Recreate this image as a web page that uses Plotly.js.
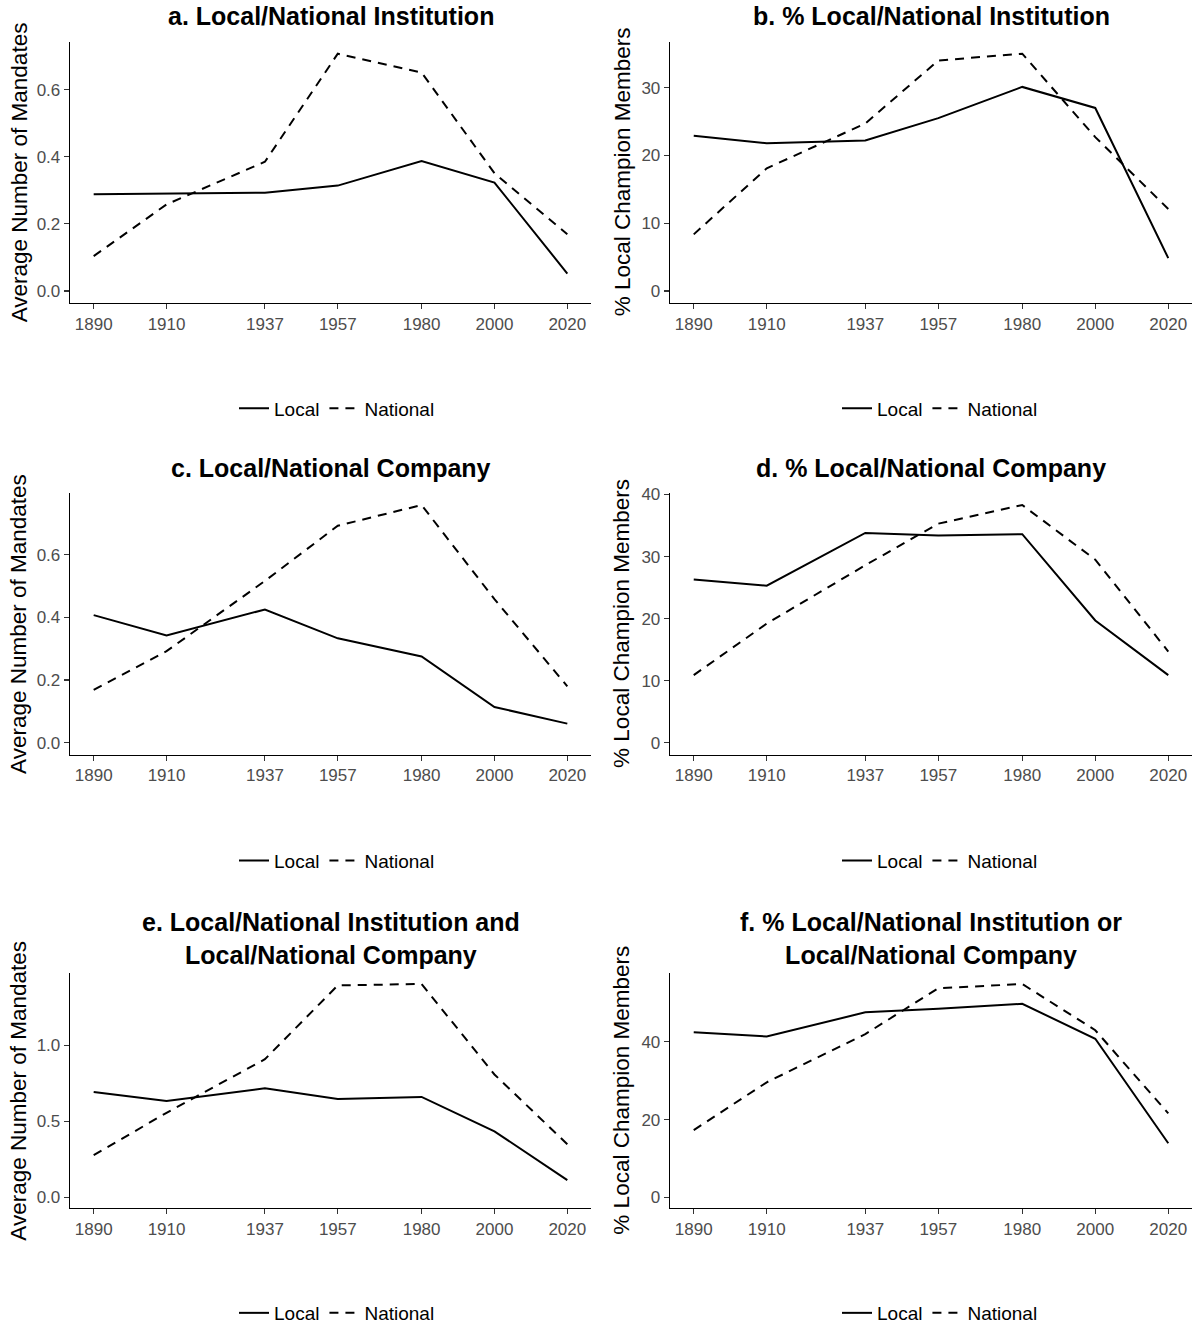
<!DOCTYPE html>
<html>
<head>
<meta charset="utf-8">
<script src="https://cdn.plot.ly/plotly-3.0.1.min.js"></script>
<style>
  html, body { margin: 0; padding: 0; background: #ffffff; }
  #chart { width: 1197px; height: 1332px; }
</style>
</head>
<body>
<div id="chart"></div>
<script>
// Survey waves
const years = [1890, 1910, 1937, 1957, 1980, 2000, 2020];
const yearTicks = [1890, 1910, 1937, 1957, 1980, 2000, 2020];

// a. Average number of mandates: institution
const instMandLocal    = [0.288, 0.291, 0.293, 0.314, 0.387, 0.323, 0.052];
const instMandNational = [0.104, 0.258, 0.385, 0.707, 0.651, 0.351, 0.169];

// b. % champion members: institution
const instPctLocal    = [22.9, 21.8, 22.2, 25.5, 30.1, 27.0, 4.85];
const instPctNational = [8.35, 18.1, 24.7, 34.0, 35.0, 22.7, 12.1];

// c. Average number of mandates: company
const compMandLocal    = [0.407, 0.342, 0.425, 0.333, 0.275, 0.114, 0.061];
const compMandNational = [0.169, 0.292, 0.516, 0.692, 0.758, 0.458, 0.180];

// d. % champion members: company
const compPctLocal    = [26.3, 25.3, 33.8, 33.4, 33.6, 19.7, 10.9];
const compPctNational = [10.9, 19.2, 28.6, 35.3, 38.3, 29.5, 14.7];

// e. Average number of mandates: institution and company
const bothMandLocal    = [0.693, 0.634, 0.717, 0.647, 0.660, 0.434, 0.113];
const bothMandNational = [0.277, 0.556, 0.908, 1.394, 1.403, 0.808, 0.349];

// f. % champion members: institution or company
const bothPctLocal    = [42.5, 41.4, 47.6, 48.5, 49.8, 40.8, 13.9];
const bothPctNational = [17.3, 29.6, 42.0, 53.8, 54.9, 43.0, 21.6];

const panelTitles = [
  "a. Local/National Institution",
  "b. % Local/National Institution",
  "c. Local/National Company",
  "d. % Local/National Company",
  "e. Local/National Institution and<br>Local/National Company",
  "f. % Local/National Institution or<br>Local/National Company"
];
const yTitles = [
  "Average Number of Mandates",
  "% Local Champion Members",
  "Average Number of Mandates",
  "% Local Champion Members",
  "Average Number of Mandates",
  "% Local Champion Members"
];
const seriesNames = ["Local", "National"];

const panels = [
  { local: instMandLocal, national: instMandNational, dtick: 0.2, fmt: ".1f" },
  { local: instPctLocal,  national: instPctNational,  dtick: 10,  fmt: "d" },
  { local: compMandLocal, national: compMandNational, dtick: 0.2, fmt: ".1f" },
  { local: compPctLocal,  national: compPctNational,  dtick: 10,  fmt: "d" },
  { local: bothMandLocal, national: bothMandNational, dtick: 0.5, fmt: ".1f" },
  { local: bothPctLocal,  national: bothPctNational,  dtick: 20,  fmt: "d" }
];

// Page geometry (px) for the 3x2 grid of panels
const W = 1197, H = 1332;
const colX = [[70, 591], [670, 1192]];
const rowY = [[42, 304], [495, 757.5], [977, 1212.5]];
const titleY = [16, 470, 942];
const legendY = [410, 864, 1318];
const legendX = [337, 940];
const yTitleX = [19, 622];

const FONT = "Liberation Sans, Arial, Helvetica, sans-serif";
const px = v => v / W;
const py = v => 1 - v / H;

const traces = [];
const layout = {
  width: W, height: H,
  margin: { l: 0, r: 0, t: 0, b: 0 },
  paper_bgcolor: "#ffffff",
  plot_bgcolor: "#ffffff",
  font: { family: FONT, color: "#000000" },
  annotations: [],
  showlegend: true
};

panels.forEach((p, i) => {
  const col = i % 2, row = Math.floor(i / 2);
  const n = i + 1;
  const xa = n === 1 ? "x" : "x" + n;
  const ya = n === 1 ? "y" : "y" + n;
  const xKey = n === 1 ? "xaxis" : "xaxis" + n;
  const yKey = n === 1 ? "yaxis" : "yaxis" + n;
  const legKey = n === 1 ? "legend" : "legend" + n;

  const yMax = Math.max(...p.local, ...p.national);
  const pad = 0.05 * yMax;

  traces.push({
    x: years, y: p.local, type: "scatter", mode: "lines",
    name: seriesNames[0], xaxis: xa, yaxis: ya, legend: legKey,
    line: { color: "#000000", width: 2, dash: "solid" },
    hoverinfo: "x+y"
  });
  traces.push({
    x: years, y: p.national, type: "scatter", mode: "lines",
    name: seriesNames[1], xaxis: xa, yaxis: ya, legend: legKey,
    line: { color: "#000000", width: 2, dash: "9px,7px" },
    hoverinfo: "x+y"
  });

  layout[xKey] = {
    domain: [px(colX[col][0]), px(colX[col][1])],
    anchor: ya,
    range: [1883.5, 2026.5],
    tickmode: "array",
    tickvals: yearTicks,
    ticktext: yearTicks.map(String),
    showgrid: false, zeroline: false,
    showline: true, linecolor: "#000000", linewidth: 1.3,
    ticks: "outside", ticklen: 5, tickwidth: 1.1, tickcolor: "#333333",
    tickfont: { family: FONT, size: 17, color: "#4D4D4D" },
    fixedrange: true
  };
  layout[yKey] = {
    domain: [py(rowY[row][1]), py(rowY[row][0])],
    anchor: xa,
    range: [-pad, yMax + pad],
    tick0: 0, dtick: p.dtick, tickformat: p.fmt,
    showgrid: false, zeroline: false,
    showline: true, linecolor: "#000000", linewidth: 1.3,
    ticks: "outside", ticklen: 5, tickwidth: 1.1, tickcolor: "#333333",
    tickfont: { family: FONT, size: 17, color: "#4D4D4D" },
    fixedrange: true
  };
  layout[legKey] = {
    orientation: "h",
    x: px(legendX[col]), y: py(legendY[row]),
    xanchor: "center", yanchor: "middle",
    bgcolor: "rgba(0,0,0,0)",
    font: { family: FONT, size: 19, color: "#000000" },
    itemwidth: 30,
    tracegroupgap: 0
  };

  // panel title
  layout.annotations.push({
    text: "<b>" + panelTitles[i] + "</b>",
    xref: "paper", yref: "paper",
    x: px((colX[col][0] + colX[col][1]) / 2),
    y: py(titleY[row]),
    xanchor: "center", yanchor: "middle",
    showarrow: false,
    font: { family: FONT, size: 25, color: "#000000" }
  });
  // y-axis title
  layout.annotations.push({
    text: yTitles[i],
    xref: "paper", yref: "paper",
    x: px(yTitleX[col]),
    y: py((rowY[row][0] + rowY[row][1]) / 2),
    xanchor: "center", yanchor: "middle",
    textangle: -90,
    showarrow: false,
    font: { family: FONT, size: 22.5, color: "#000000" }
  });
});

Plotly.newPlot("chart", traces, layout, { displayModeBar: false, staticPlot: true });
</script>
</body>
</html>
